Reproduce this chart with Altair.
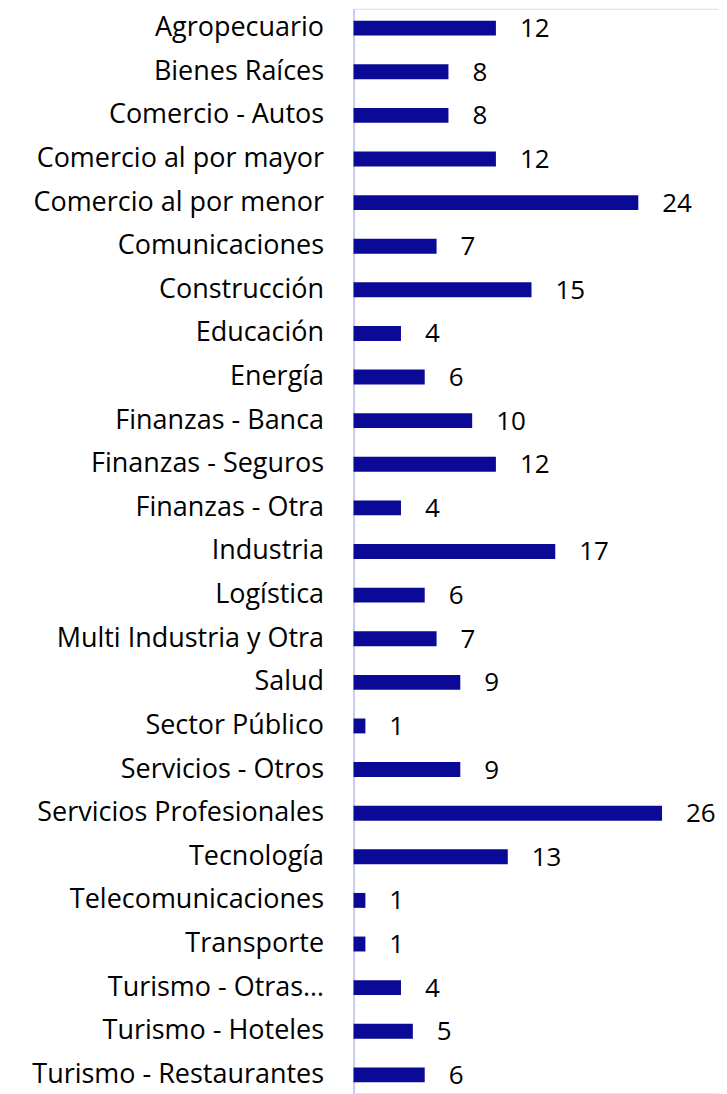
import altair as alt
import pandas as pd

categories = [
    "Agropecuario", "Bienes Raíces", "Comercio - Autos", "Comercio al por mayor",
    "Comercio al por menor", "Comunicaciones", "Construcción", "Educación",
    "Energía", "Finanzas - Banca", "Finanzas - Seguros", "Finanzas - Otra",
    "Industria", "Logística", "Multi Industria y Otra", "Salud",
    "Sector Público", "Servicios - Otros", "Servicios Profesionales", "Tecnología",
    "Telecomunicaciones", "Transporte", "Turismo - Otras…", "Turismo - Hoteles",
    "Turismo - Restaurantes",
]
values = [12, 8, 8, 12, 24, 7, 15, 4, 6, 10, 12, 4, 17, 6, 7, 9, 1, 9, 26, 13, 1, 1, 4, 5, 6]

df = pd.DataFrame({"sector": categories, "n": values})

FONT = "Open Sans"
BAR = "#0A0A96"

y_enc = alt.Y(
    "sector:N",
    sort=categories,
    scale=alt.Scale(range=[0, 1087], paddingInner=0.658, paddingOuter=0.2735),
    axis=alt.Axis(
        title=None, ticks=False, labelPadding=30, labelFontSize=27,
        labelFont=FONT, labelColor="#000000", labelLimit=400,
        domainColor="#C8CCF2", domainWidth=2, grid=False,
    ),
)
x_enc = alt.X("n:Q", scale=alt.Scale(domain=[0, 30.8], nice=False), axis=None)

bars = alt.Chart(df).mark_bar(color=BAR).encode(y=y_enc, x=x_enc)
labels = alt.Chart(df).mark_text(
    align="left", baseline="middle", dx=24, dy=1, fontSize=26, font=FONT, color="#000000"
).encode(y=alt.Y("sector:N", sort=categories), x="n:Q", text="n:Q")

chart = (
    alt.layer(bars, labels)
    .properties(
        width=366, height=1086,
        autosize=alt.AutoSizeParams(type="none"),
        padding={"left": 346, "top": 0, "right": 0, "bottom": 0},
    )
    .configure_view(stroke=None, strokeWidth=0)
    .configure(background="#ffffff")
)

chart.save("out.html", embed_options={"renderer": "svg", "actions": False})
